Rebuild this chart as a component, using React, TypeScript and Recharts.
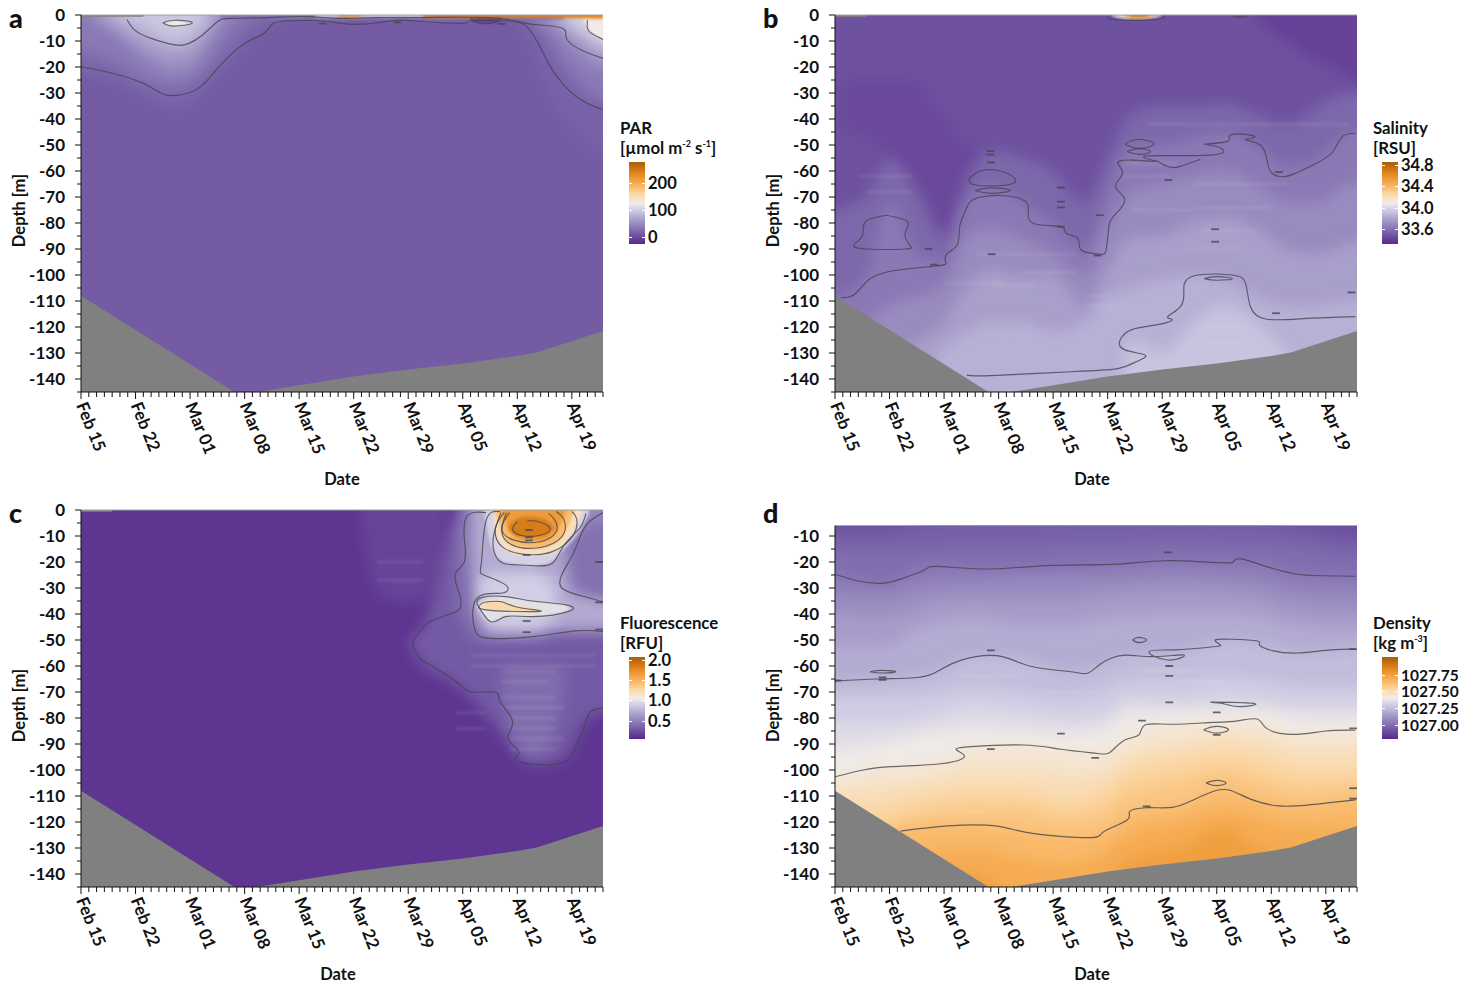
import React from 'react';
import { ComposedChart, Area, Line, XAxis, YAxis, ReferenceLine } from 'recharts';

type Band = { level: number; days: number[]; top?: number[]; base?: number[] };
type Pts = number[][];

const weekTicks = ['Feb 15', 'Feb 22', 'Mar 01', 'Mar 08', 'Mar 15', 'Mar 22', 'Mar 29', 'Apr 05', 'Apr 12', 'Apr 19'];
const dayTicks = Array.from({ length: 68 }, (_, i) => i);
const depthTicks = Array.from({ length: 30 }, (_, i) => -5 * i);

const seabedDays = [0, 19.7, 22.6, 35, 42, 49, 56, 58.5, 67];
const seabedDepths = [-108, -145, -145, -139, -136.3, -134, -131.2, -129.8, -121.5];

// colour ramp of the legends
const rampStops = [0, 0.15, 0.3, 0.42, 0.5, 0.6, 0.72, 0.85, 1];
const rampColors = ['#572a8c', '#7b66aa', '#a99fcb', '#d2cfe5', '#f1ece8', '#fcd9a8', '#f8b25c', '#e58a1f', '#ad5a0b'];

// PAR
const parRange = [-26, 279];
const parLegend = ['0', '100', '200'];
const parSoft: Band[] = [
  { level: 20, days: [-10, 0, 5, 9, 12, 15, 18, 21, 24, 26], base: [-24, -23, -27, -32, -36, -32, -22, -12, -5, -1] },
  { level: 35, days: [-10, 0, 4, 8, 12, 15, 18, 20, 22], base: [-14, -14, -18, -25, -28, -24, -14, -6, -1] },
  { level: 55, days: [1, 4, 7, 10, 12, 15, 17, 19], base: [-2, -6, -14, -20, -22, -18, -8, -1] },
  { level: 75, days: [3, 6, 9, 12, 15, 17], base: [-1, -7, -12, -15, -11, -2] },
  { level: 95, days: [5, 8, 10, 12, 14, 16], base: [-1, -4, -8, -10, -8, -1] },
  { level: 17, days: [55, 57, 59, 61, 63, 65, 67, 77], base: [-1, -8, -24, -36, -44, -50, -54, -54] },
  { level: 35, days: [57, 59, 61, 63, 65, 67, 77], base: [-1, -6, -16, -24, -30, -33, -33] },
  { level: 55, days: [59, 61, 63, 65, 67, 77], base: [-2, -6, -13, -18, -21, -21] },
  { level: 80, days: [61, 63, 65, 67, 77], base: [-2, -7, -11, -15, -15] },
  { level: 105, days: [62.5, 64, 65.5, 67, 77], base: [-2, -5, -8, -11, -11] },
];
const parCrisp: Band[] = [
  { level: 128, days: [10.5, 12, 14.3], top: [-3, -2, -3], base: [-3, -4.3, -3] },
  { level: 128, days: [64.5, 65.3, 66, 67, 77], base: [-2, -6, -8, -9.5, -9.5] },
  { level: 30, days: [18, 30, 40, 44, 56, 62], base: [-1.2, -2, -1.6, -2.2, -2, -1.4] },
  { level: -10, days: [50, 51, 53, 54], top: [-1.2, -0.8, -0.8, -1], base: [-1.4, -3, -3, -1.2] },
  { level: 110, days: [30, 44], base: [-0.8, -0.8] },
  { level: 230, days: [33, 36], base: [-0.7, -0.7] },
  { level: 240, days: [44, 50, 56, 67], base: [-0.9, -1, -1, -1.4] },
];
const parContours: Pts[] = [
  [[0, -20], [3.5, -22], [7.8, -26], [10.2, -30], [12, -31], [13.8, -30], [15.6, -27], [18, -19], [21, -11], [23.5, -7], [24.7, -3.2], [27, -2.2], [30.8, -2.2], [34.4, -3.5], [38, -3], [40.5, -2], [44, -2.5], [49, -3.2], [50, -2.2], [53.8, -2.2], [56.9, -3.8], [58.7, -11], [60, -18.6], [61.7, -26], [64.2, -32.7], [67, -36.5]],
  [[5.9, -1.7], [6.9, -5.8], [9, -9], [12, -11.5], [13.8, -11], [15.6, -7.7], [17.5, -2.6], [19.3, -1.3], [24, -1], [29, -0.6], [33, -1.3], [38, -1], [44, -1], [52, -1], [56.3, -2.6], [58, -3.6], [61.7, -5], [62.3, -9], [64.2, -13.5], [67, -16.7]],
  [[10.5, -3], [12, -2], [14.3, -3], [12, -4.3], [10.5, -3]],
  [[65, -2], [65, -5], [65.5, -7], [67, -9.4]],
  [[50, -1.2], [51, -3], [53, -3], [54, -1.2]],
];
const parDashes: Pts = [[31, -3.3], [40.6, -2.8], [54, -3.4]];

// Salinity
const salRange = [33.32, 34.86];
const salLegend = ['33.6', '34.0', '34.4', '34.8'];
const salDays = [-10, 0, 4, 7, 11, 14, 17, 20, 24, 28, 32, 35, 38, 42, 46, 50, 54, 58, 62, 66, 77];
const salSoft: Band[] = [
  { level: 33.44, days: [1, 6, 10, 13, 17, 20], top: [-25, -25, -25, -35, -50, -55], base: [-45, -50, -95, -98, -75, -55] },
  { level: 33.41, days: [54, 58, 61, 64, 67, 77], base: [-2, -10, -16, -20, -24, -24] },
  { level: 33.56, days: salDays, top: [-80, -75, -70, -55, -70, -85, -62, -52, -55, -60, -72, -55, -38, -35, -35, -34, -38, -42, -35, -30, -30] },
  { level: 33.63, days: salDays, top: [-110, -108, -100, -72, -93, -94, -72, -66, -72, -80, -90, -68, -50, -50, -47, -45, -50, -58, -55, -45, -42] },
  { level: 33.7, days: salDays, top: [-125, -122, -118, -112, -108, -104, -85, -82, -86, -92, -100, -82, -68, -65, -62, -60, -65, -72, -72, -65, -62] },
  { level: 33.78, days: salDays, top: [-150, -150, -140, -130, -125, -118, -104, -98, -100, -100, -112, -98, -86, -85, -80, -78, -82, -90, -92, -88, -85] },
  { level: 33.85, days: salDays, top: [-170, -170, -160, -150, -140, -128, -122, -118, -118, -122, -118, -108, -105, -102, -100, -102, -108, -112, -112, -110, -110] },
  { level: 33.92, days: salDays, top: [-170, -170, -170, -170, -170, -170, -170, -170, -170, -170, -170, -170, -125, -130, -118, -112, -118, -130, -140, -150, -150] },
];
const salCrisp: Band[] = [
  { level: 34.0, days: [35.6, 37, 40, 41.8], base: [-0.4, -1.4, -1.4, -0.4] },
  { level: 34.5, days: [37, 38, 40, 41], base: [-0.5, -0.9, -0.9, -0.5] },
  { level: 34.75, days: [37.8, 39, 40.2], base: [-0.6, -0.8, -0.6] },
];
const salContours: Pts[] = [
  [[0.8, -108.7], [2.4, -107.7], [3.9, -103], [5.4, -100], [8.4, -98], [13.3, -96.4], [14.2, -95], [14.4, -91.7], [15.7, -88.5], [16, -81.4], [16.6, -76.3], [17.2, -72.4], [18.7, -70], [21.8, -69.5], [24.5, -71.8], [24.8, -76.3], [25.7, -80.4], [29, -81.4], [29.7, -84], [31.2, -86], [31.6, -90.4], [33.9, -92], [34.8, -90.4], [35.1, -82.7], [35.7, -77.6], [37.2, -71.2], [36, -66], [36.9, -61], [36.3, -57], [38.1, -55.8], [41.2, -56.2], [40, -54.2], [48.5, -53.8], [49, -50.6], [47.5, -49.6], [50.3, -48.7], [50.6, -46.5], [52.4, -45.8], [53.9, -47], [52.7, -48], [54.8, -50.6], [55.7, -59], [57.2, -62.2], [59, -61], [61.8, -57], [63.9, -52.6], [65.1, -46.8], [66.8, -45.5]],
  [[16.9, -138.5], [20, -138.7], [30.3, -137.2], [36.3, -136], [38.7, -133.3], [39.8, -130.8], [37.2, -128.8], [36.6, -125], [38.1, -121], [41.2, -119.2], [43.3, -117.3], [42.7, -116], [44.5, -111.5], [44.8, -103.8], [46.6, -100], [50.9, -100], [52.7, -103.2], [53.3, -112], [55.4, -117], [60.6, -116.7], [66.8, -116]],
  [[6.6, -77], [3.9, -79.5], [3.5, -85], [2.4, -88.5], [4.2, -90], [9, -90], [9.6, -88.5], [9, -84], [9.3, -79.5], [6.6, -77]],
  [[17.2, -63], [18.7, -60], [21.2, -60], [23.1, -63], [22, -65.4], [18.1, -65.4], [17.2, -63]],
  [[18, -67.5], [20, -66.5], [22.5, -67.5], [20, -68.6], [18, -67.5]],
  [[37.2, -49.6], [39, -47.8], [40.9, -49.6], [39, -51.3], [37.2, -49.6]],
  [[37.5, -52.5], [39, -51.4], [40.5, -52.5], [39, -53.6], [37.5, -52.5]],
  [[41.2, -56], [42.7, -58.3], [44.2, -58.3], [46.9, -55.5]],
  [[47.4, -101.4], [49, -100.6], [51, -101.4], [49, -102], [47.4, -101.4]],
  [[35.1, -0.2], [36, -1.8], [41, -1.8], [42.3, -0.2]],
  [[51, -0.2], [52, -0.9], [53, -0.2]],
];
const salDashes: Pts = [[20, -52.3], [20, -53.7], [20, -56.7], [12, -90], [12.7, -96], [20.1, -92], [29, -66.4], [29, -71.8], [29, -74], [29, -81.4], [34, -77], [33.7, -92.5], [42.8, -63.5], [48.8, -82.4], [48.8, -87.2], [56.6, -114.7], [66.3, -106.7], [57, -60.4]];
const salStreaks: Pts = [[3, 10, -62], [4, 10, -68], [18, 31, -92], [24, 31, -99], [20, 26, -104], [14, 22, -103], [32, 35, -108], [32, 36, -112], [37, 44, -57], [37, 43, -62], [46, 58, -65], [46, 56, -74], [38, 46, -75], [47, 54, -83], [45, 52, -90], [47, 52, -120], [47, 52, -126], [40, 66, -42]];

// Fluorescence
const fluRange = [0.06, 2.07];
const fluLegend = ['0.5', '1.0', '1.5', '2.0'];
const fluSoft: Band[] = [
  { level: 0.19, days: [36, 38, 42, 45, 47], base: [-5, -32, -36, -32, -20] },
  { level: 0.3, days: [42, 44, 47, 50, 54, 58, 62, 65, 68, 77], top: [-50, -44, -12, 10, 10, 10, 10, 10, 10, 10], base: [-51, -60, -65, -72, -86, -98, -96, -80, -78, -78] },
  { level: 0.42, days: [48, 51, 54, 58, 62, 66, 77], top: [-8, 10, 10, 10, 10, 10, 10], base: [-38, -50, -50, -50, -48, -48, -48] },
  { level: 0.4, days: [54, 56, 58, 60, 62], top: [-60, -60, -60, -60, -60], base: [-70, -92, -95, -92, -70] },
  { level: 0.72, days: [50, 52, 55, 58, 61, 63, 66, 77], top: [10, 10, 10, 10, 10, -31, -34, -37], base: [-18, -48, -48, -48, -46, -46, -46, -46] },
  { level: 0.55, days: [60, 63, 66, 77], base: [-22, -12, -4, -4] },
  { level: 0.9, days: [51, 54, 58, 61], top: [-26, -24, -24, -30], base: [-40, -45, -45, -40] },
];
const fluCrisp: Band[] = [
  { level: 0.92, days: [51.8, 52.3, 53, 54, 56, 58, 60, 62, 64, 65.2], base: [-1, -10, -16, -19.5, -21, -21.4, -20.5, -15, -8, -1.3] },
  { level: 1.2, days: [52.9, 53.3, 54.5, 56.9, 60.5, 62.5, 63.9, 64.3], base: [-1, -10, -15.5, -17.5, -16.5, -11.5, -4, -1] },
  { level: 1.45, days: [53.2, 54, 55.5, 58.7, 61.5, 62.7, 63.2], base: [-1, -8, -13.5, -14.8, -11, -5, -1] },
  { level: 1.65, days: [54, 55, 56.5, 58.9, 60.8, 61.8, 62.2], base: [-1, -8, -11.5, -12.2, -9, -4, -1] },
  { level: 1.85, days: [54.9, 56, 57.5, 59.5, 60.4, 60.8], top: [-6, -3.4, -2.5, -3.5, -5.5, -7], base: [-7.5, -10, -10.5, -10, -8, -7] },
  { level: 1.0, days: [50.8, 52.6, 54.5, 58, 62.3, 62.8], top: [-36, -34, -33.3, -35, -36.5, -38], base: [-37, -43, -41, -41, -39, -38.2] },
  { level: 1.28, days: [51.4, 53, 54.5, 57, 58.9], top: [-35.5, -35, -35.8, -37.3, -38.5], base: [-36.5, -38.8, -38.8, -39.2, -39] },
];
const fluContours: Pts[] = [
  [[52, -1], [49.6, -2.2], [49.2, -11], [49.2, -20], [48, -25], [48.6, -32.7], [48.6, -38], [47, -40.4], [44.4, -43.6], [43.2, -48], [42.6, -51.3], [43.5, -57], [44.8, -59.6], [47.2, -64], [48.7, -67.3], [50.2, -70], [53.2, -70], [53.8, -73.7], [55.4, -81.4], [54.8, -87.8], [56.2, -93], [55.7, -96], [58.1, -97.8], [61.7, -97.4], [63.2, -93], [64.5, -84], [65.4, -77.6], [67, -76.3]],
  [[53.8, -0.6], [52, -4], [51.4, -20], [51.7, -25], [54.5, -28.8], [53.9, -32], [50.8, -34], [50.5, -45.5], [52.6, -49.4], [58.1, -48.7], [63.5, -46.5], [67, -46.8]],
  [[53.9, -1], [52.9, -11], [53.5, -19], [55.3, -21], [58, -21.4], [60.5, -20.5], [62, -13.5], [64, -7], [64.8, -1.3]],
  [[54.3, -1], [53.2, -7], [54, -14], [56.9, -17], [60.5, -16], [63.2, -9.6], [63.6, -3.2], [63, -0.6]],
  [[54.6, -1], [54, -8.3], [55.4, -13.5], [58.7, -14.5], [61.7, -10.3], [62, -3.8], [61, -0.6]],
  [[55, -1], [54, -7], [55.5, -11.5], [58.9, -12.2], [61, -8.3], [60.8, -3.8], [60, -1.3]],
  [[56, -4.5], [55.4, -7.7], [56.9, -10], [59.3, -9.4], [60.2, -7], [58.7, -4.5], [57.3, -4.2]],
  [[50.8, -36], [52.6, -43], [54.5, -41], [58, -41], [62.6, -39], [62.3, -36.5], [58, -35], [54.5, -33.3], [51.5, -33.6], [50.8, -36]],
  [[51.4, -36], [52.3, -38.5], [58.9, -39], [56.2, -37.5], [54, -35.3], [52, -35.4], [51.4, -36]],
  [[67, -35.3], [64.2, -33], [61.7, -30], [61.7, -25], [62.6, -20], [63.6, -14], [64.8, -6], [67, -1]],
];
const fluDashes: Pts = [[57.2, -42.7], [57.2, -47], [57.2, -17.3], [57.5, -7.7], [57.5, -10.5], [57.5, -11.7], [66.5, -20], [66.5, -35.5], [66.5, -46]];
const fluStreaks: Pts = [[54, 61, -62], [54, 60, -66], [54, 61, -72], [54, 62, -76], [55, 61, -80], [55, 61, -84], [55, 62, -88], [55, 61, -92], [48, 52, -78], [48, 52, -84], [38, 44, -20], [38, 44, -27], [50, 66, -56], [50, 66, -60], [55, 62, -26], [52, 62, -44]];

// Density
const denRange = [1026.79, 1028.02];
const denLegend = ['1027.00', '1027.25', '1027.50', '1027.75'];
const denDays = [-10, 0, 6, 12, 18, 24, 30, 34, 38, 44, 50, 54, 60, 67, 77];
const denSoft: Band[] = [
  { level: 1026.96, days: denDays, top: [-9, -8, -8, -5, -4, -4, -2, -2, -2, -2, -3, -4, -7, -11, -11] },
  { level: 1027.0, days: denDays, top: [-16, -15, -16, -15, -14, -14, -13, -13, -13, -12, -13, -13, -15, -18, -18] },
  { level: 1027.05, days: denDays, top: [-24, -24.7, -28.2, -22, -22.5, -22, -21.5, -21, -20.5, -19.5, -20, -20.5, -24.5, -25.5, -25.5] },
  { level: 1027.1, days: denDays, top: [-32, -32, -33, -29, -28, -27, -27, -27, -26, -25, -26, -27, -31, -32, -32] },
  { level: 1027.15, days: denDays, top: [-40, -40, -41, -36, -34, -35, -35, -33, -32, -31, -32, -33, -38, -39, -39] },
  { level: 1027.2, days: denDays, top: [-52, -52, -52, -44, -42, -44, -44, -42, -41, -40, -40, -41, -45, -46, -46] },
  { level: 1027.25, days: denDays, top: [-66, -65.8, -65, -63, -56, -57, -62, -60, -56, -55, -50, -51, -55, -53.5, -53] },
  { level: 1027.3, days: denDays, top: [-72, -72, -72, -71, -68, -70, -72, -70, -66, -66, -64, -65, -68, -68, -68] },
  { level: 1027.35, days: denDays, top: [-82, -82, -82, -80, -76, -78, -80, -79, -73, -74, -72, -73, -75, -75, -75] },
  { level: 1027.4, days: denDays, top: [-94, -92, -90, -86, -84, -85, -86, -85, -78, -78, -77, -77, -80, -80, -80] },
  { level: 1027.45, days: denDays, top: [-104, -102.6, -98.5, -97, -91, -90.4, -92, -93, -86, -82, -81, -80.4, -86, -84.7, -84.5] },
  { level: 1027.5, days: denDays, top: [-110, -108, -106, -104, -100, -100, -102, -101, -94, -90, -87, -88, -92, -92, -92] },
  { level: 1027.55, days: denDays, top: [-118, -116, -114, -110, -108, -108, -112, -108, -100, -96, -94, -95, -100, -100, -100] },
  { level: 1027.6, days: denDays, top: [-130, -128, -122, -116, -114, -114, -118, -115, -108, -104, -100, -103, -107, -106, -106] },
  { level: 1027.65, days: denDays, top: [-140, -135, -125, -121.5, -121.5, -123, -125, -124, -116, -114, -108, -110, -113.5, -111.5, -111] },
  { level: 1027.7, days: denDays, top: [-160, -160, -150, -132, -130, -134, -136, -132, -124, -120, -116, -118, -122, -122, -120] },
  { level: 1027.75, days: denDays, top: [-170, -170, -165, -142, -141, -150, -150, -146, -134, -130, -122, -130, -135, -160, -160] },
];
const denContours: Pts[] = [
  [[0, -24.7], [3, -27.3], [6, -28.2], [8.7, -26.3], [11.2, -23.5], [12, -22], [13.9, -21.8], [20, -22.7], [27.2, -21.4], [36.3, -20.8], [42.4, -19.5], [49.7, -20.3], [51.2, -19.6], [52.1, -18.8], [54.5, -20.9], [58.8, -24.4], [62.4, -25.3], [66.8, -25.5]],
  [[0, -65.8], [5.4, -65], [10.2, -64.5], [12.7, -62.8], [15.1, -59], [18.1, -56.4], [21.5, -56.4], [25.4, -60.3], [30.3, -62.2], [32.4, -62.8], [33.9, -59.6], [35.4, -57], [37.5, -55.8], [41.2, -56.4], [44.8, -55.8], [42.7, -57.7], [40.3, -54.5], [43.6, -53.8], [48.5, -52.6], [49.4, -51.7], [48.8, -50], [50.9, -49.7], [54.2, -50.4], [54.5, -52], [56.3, -54.2], [59.4, -55], [63.6, -53.8], [66.8, -53.5]],
  [[0, -102.6], [3.6, -100], [7.2, -98.7], [13.3, -97.7], [16.6, -94.9], [15.6, -92.3], [17.5, -91], [24.2, -90.4], [29, -92], [33.6, -93.6], [35.4, -93], [37.2, -88.5], [39, -86.5], [39.8, -82.7], [43.3, -82.4], [48.5, -81.7], [51.5, -81.2], [54.2, -80.4], [55.4, -84], [58.8, -86.3], [63, -85], [66.8, -84.7]],
  [[8.4, -123.5], [14.5, -121.5], [20.6, -121.5], [25.4, -124.4], [32.7, -126], [34.5, -123.7], [37.5, -119.2], [37.8, -116], [40, -114.5], [43.3, -114.4], [46, -111.5], [48.8, -108], [50.9, -108], [53.6, -111.5], [56.9, -113.8], [60.6, -113.5], [66.8, -111.5]],
  [[38.2, -50], [39, -49], [40, -50], [39, -51], [38.2, -50]],
  [[4.5, -62.2], [6.1, -61.7], [7.8, -62.2], [6.1, -62.7], [4.5, -62.2]],
  [[48.2, -73.9], [51, -74], [54, -74.6], [52, -75.6], [50, -74.6], [48.2, -73.9]],
  [[47.3, -84.5], [49, -83.2], [50.5, -84.5], [49, -85.8], [47.3, -84.5]],
  [[47.6, -105], [49, -104], [50.2, -105], [49, -106], [47.6, -105]],
];
const denDashes: Pts = [[42.7, -16.3], [20, -54], [6.1, -64.4], [6.1, -65.3], [0.3, -65.5], [42.9, -60], [42.9, -63.8], [42.9, -74], [49, -77.8], [39.4, -81], [49, -86.5], [29, -86], [33.4, -95.3], [40, -114], [20, -92], [66.5, -53.5], [66.5, -84], [66.5, -107], [66.5, -111]];
const denStreaks: Pts = [[36, 44, -57], [40, 46, -62], [16, 24, -64], [40, 50, -66], [26, 34, -70], [12, 24, -104], [18, 30, -110], [10, 20, -116], [38, 50, -62]];

const FONT = 'Lato, sans-serif';
const INK = '#111';
const SEABED = '#808080';
const CONTOUR = '#45454f';

function rampColor(t: number) {
  const v = Math.min(1, Math.max(0, t));
  let i = 0;
  while (i < rampStops.length - 2 && v > rampStops[i + 1]) i++;
  const f = (v - rampStops[i]) / (rampStops[i + 1] - rampStops[i]);
  const a = rampColors[i];
  const b = rampColors[i + 1];
  const ch = (s: string, n: number) => parseInt(s.slice(1 + n * 2, 3 + n * 2), 16);
  const mix = [0, 1, 2].map((n) => Math.round(ch(a, n) + (ch(b, n) - ch(a, n)) * f));
  return `rgb(${mix.join(',')})`;
}

function XTick({ x, y, payload }: any) {
  const day = payload.value;
  const major = day % 7 === 0;
  return (
    <g>
      <line x1={x} x2={x} y1={y} y2={y + (major ? 7 : 5)} stroke={INK} strokeWidth={1} />
      {major && (
        <text
          transform={`translate(${x - 5},${y + 13}) rotate(68)`}
          fontSize={17}
          fontWeight={700}
          fontFamily={FONT}
          fill={INK}
        >
          {weekTicks[day / 7]}
        </text>
      )}
    </g>
  );
}

function YTick({ x, y, payload }: any) {
  const major = payload.value % 10 === 0;
  return (
    <g>
      <line x1={x - (major ? 6 : 4)} x2={x} y1={y} y2={y} stroke={INK} strokeWidth={1} />
      {major && (
        <text x={x - 16} y={y} dy="0.35em" textAnchor="end" fontSize={17} fontWeight={700} fontFamily={FONT} fill={INK}>
          {payload.value}
        </text>
      )}
    </g>
  );
}

function bandArea(b: Band, range: number[], key: string, cls: string) {
  const data = b.days.map((day, i) => ({
    day,
    span: [b.base ? b.base[i] : -170, b.top ? b.top[i] : 10],
  }));
  return (
    <Area
      key={key}
      className={cls}
      data={data}
      dataKey="span"
      type="monotone"
      stroke="none"
      fill={rampColor((b.level - range[0]) / (range[1] - range[0]))}
      fillOpacity={1}
      dot={false}
      activeDot={false}
      isAnimationActive={false}
    />
  );
}

function contourLine(pts: Pts, key: string, smooth = 'natural', width = 1.15) {
  return (
    <Line
      key={key}
      data={pts.map(([day, depth]) => ({ day, depth }))}
      dataKey="depth"
      type={smooth as any}
      stroke={CONTOUR}
      strokeWidth={width}
      strokeOpacity={0.8}
      dot={false}
      activeDot={false}
      isAnimationActive={false}
    />
  );
}

function streakLine(s: number[], key: string) {
  return (
    <Line
      key={key}
      className="streak"
      data={[{ day: s[0], depth: s[2] }, { day: s[1], depth: s[2] }]}
      dataKey="depth"
      type="linear"
      stroke="#fff"
      strokeWidth={3}
      strokeOpacity={0.09}
      dot={false}
      activeDot={false}
      isAnimationActive={false}
    />
  );
}

function Panel(props: {
  left: number;
  top: number;
  letter: string;
  dateShift: number;
  range: number[];
  baseLevel: number;
  soft: Band[];
  crisp: Band[];
  contours: Pts[];
  dashes: Pts;
  streaks: Pts;
  depthMax?: number;
  gapDays: number;
}) {
  const { left, top, letter, dateShift, range, baseLevel, soft, crisp, contours, dashes, streaks, gapDays } = props;
  const depthMax = props.depthMax ?? 0;
  const marginTop = depthMax === 0 ? 15 : 30.6;
  const seabed = seabedDays.map((day, i) => ({ day, span: [-150, seabedDepths[i]] }));
  const gap = [{ day: 0, span: [-0.7, 1] }, { day: gapDays, span: [-0.7, 1] }];
  return (
    <div style={{ position: 'absolute', left, top, width: 740, height: 495 }}>
      <ComposedChart width={740} height={495} margin={{ top: marginTop, right: 137, bottom: 0, left: 0 }}>
        {bandArea({ level: baseLevel, days: [-10, 77] }, range, 'bg', 'flat')}
        {soft.map((b, i) => bandArea(b, range, `s${i}`, 'soft'))}
        {streaks.map((s, i) => streakLine(s, `t${i}`))}
        {crisp.map((b, i) => bandArea(b, range, `c${i}`, 'crisp'))}
        {depthMax === 0 && (
          <Area data={gap} dataKey="span" type="linear" stroke="none" fill={SEABED} fillOpacity={1} dot={false} activeDot={false} isAnimationActive={false} />
        )}
        <Area data={seabed} dataKey="span" type="linear" stroke="none" fill={SEABED} fillOpacity={1} dot={false} activeDot={false} isAnimationActive={false} />
        {contours.map((c, i) => contourLine(c, `l${i}`))}
        {dashes.map(([day, depth], i) =>
          contourLine([[day - 0.5, depth], [day + 0.5, depth]], `d${i}`, 'linear', 1.8),
        )}
        {depthMax === 0 && <ReferenceLine y={0} stroke="#a0a0a0" strokeWidth={1} />}
        <XAxis
          type="number"
          dataKey="day"
          domain={[0, 67]}
          ticks={dayTicks}
          interval={0}
          allowDataOverflow
          height={103}
          tickSize={0}
          tickMargin={0}
          tickLine={false}
          tick={XTick}
          stroke={INK}
          label={{ value: 'Date', position: 'insideBottom', offset: 10, dx: dateShift, fontSize: 16.5, fontWeight: 700, fontFamily: FONT, fill: INK }}
        />
        <YAxis
          type="number"
          domain={[-145, depthMax]}
          ticks={depthTicks.filter((t) => t <= depthMax)}
          interval={0}
          allowDataOverflow
          width={81}
          tickSize={0}
          tickMargin={0}
          tickLine={false}
          tick={YTick}
          stroke={INK}
          label={{ value: 'Depth [m]', angle: -90, position: 'insideLeft', offset: 19, dy: depthMax === 0 ? 7 : -1, fontSize: 16.5, fontWeight: 700, fontFamily: FONT, fill: INK, style: { textAnchor: 'middle' } }}
        />
      </ComposedChart>
      <div style={{ position: 'absolute', left: 9, top: 4, fontFamily: FONT, fontWeight: 900, fontSize: 27, color: INK, lineHeight: 1 }}>
        {letter}
      </div>
    </div>
  );
}

function ColorKey(props: {
  left: number;
  top: number;
  title: string;
  unit: React.ReactNode;
  labels: string[];
  range: number[];
  labelSize?: number;
}) {
  const { left, top, title, unit, labels, range, labelSize = 16.5 } = props;
  const gradient = rampStops.map((s, i) => `${rampColors[i]} ${s * 100}%`).join(',');
  const barTop = top + 35;
  const barHeight = 81.5;
  const text: React.CSSProperties = { position: 'absolute', fontFamily: FONT, fontWeight: 700, fontSize: 16.8, color: INK, lineHeight: '18px', whiteSpace: 'nowrap' };
  return (
    <>
      <div style={{ ...text, left, top: top - 8 }}>{title}</div>
      <div style={{ ...text, left, top: top + 13, lineHeight: '15px' }}>{unit}</div>
      <div style={{ position: 'absolute', left: left + 9, top: barTop, width: 16, height: barHeight, background: `linear-gradient(to top, ${gradient})` }} />
      {labels.map((l) => {
        const y = barTop + barHeight - ((Number(l) - range[0]) / (range[1] - range[0])) * barHeight;
        return (
          <React.Fragment key={l}>
            <div style={{ position: 'absolute', left: left + 9, top: y, width: 3, height: 1, background: '#fff' }} />
            <div style={{ position: 'absolute', left: left + 22, top: y, width: 3, height: 1, background: '#fff' }} />
            <div style={{ ...text, left: left + 28, top: y - 7, fontSize: labelSize, lineHeight: '15px' }}>{l}</div>
          </React.Fragment>
        );
      })}
    </>
  );
}

export default function App() {
  return (
    <div style={{ position: 'fixed', left: 0, top: 0, width: 1481, height: 983, background: '#fff', overflow: 'hidden' }}>
      <style>{`
        .soft .recharts-area-area { filter: blur(7px); }
        .crisp .recharts-area-area { filter: blur(1.6px); }
        .streak .recharts-line-curve { filter: blur(1.4px); }
      `}</style>
      <Panel left={0} top={0} letter="a" dateShift={0} range={parRange} baseLevel={11} soft={parSoft} crisp={parCrisp} contours={parContours} dashes={parDashes} streaks={[]} gapDays={8} />
      <Panel left={754} top={0} letter="b" dateShift={-4} range={salRange} baseLevel={33.47} soft={salSoft} crisp={salCrisp} contours={salContours} dashes={salDashes} streaks={salStreaks} gapDays={4} />
      <Panel left={0} top={495} letter="c" dateShift={-4} range={fluRange} baseLevel={0.12} soft={fluSoft} crisp={fluCrisp} contours={fluContours} dashes={fluDashes} streaks={fluStreaks} gapDays={4} />
      <Panel left={754} top={495} letter="d" dateShift={-4} range={denRange} baseLevel={1026.9} soft={denSoft} crisp={[]} contours={denContours} dashes={denDashes} streaks={denStreaks} depthMax={-6} gapDays={0} />
      <ColorKey left={620} top={127} title="PAR" unit={<>[µmol m<sup style={{ fontSize: 9, lineHeight: 0 }}>-2</sup> s<sup style={{ fontSize: 9, lineHeight: 0 }}>-1</sup>]</>} labels={parLegend} range={parRange} />
      <ColorKey left={1373} top={127} title="Salinity" unit="[RSU]" labels={salLegend} range={salRange} />
      <ColorKey left={620} top={622} title="Fluorescence" unit="[RFU]" labels={fluLegend} range={fluRange} />
      <ColorKey left={1373} top={622} title="Density" unit={<>[kg m<sup style={{ fontSize: 9, lineHeight: 0 }}>-3</sup>]</>} labels={denLegend} range={denRange} labelSize={15.5} />
    </div>
  );
}
